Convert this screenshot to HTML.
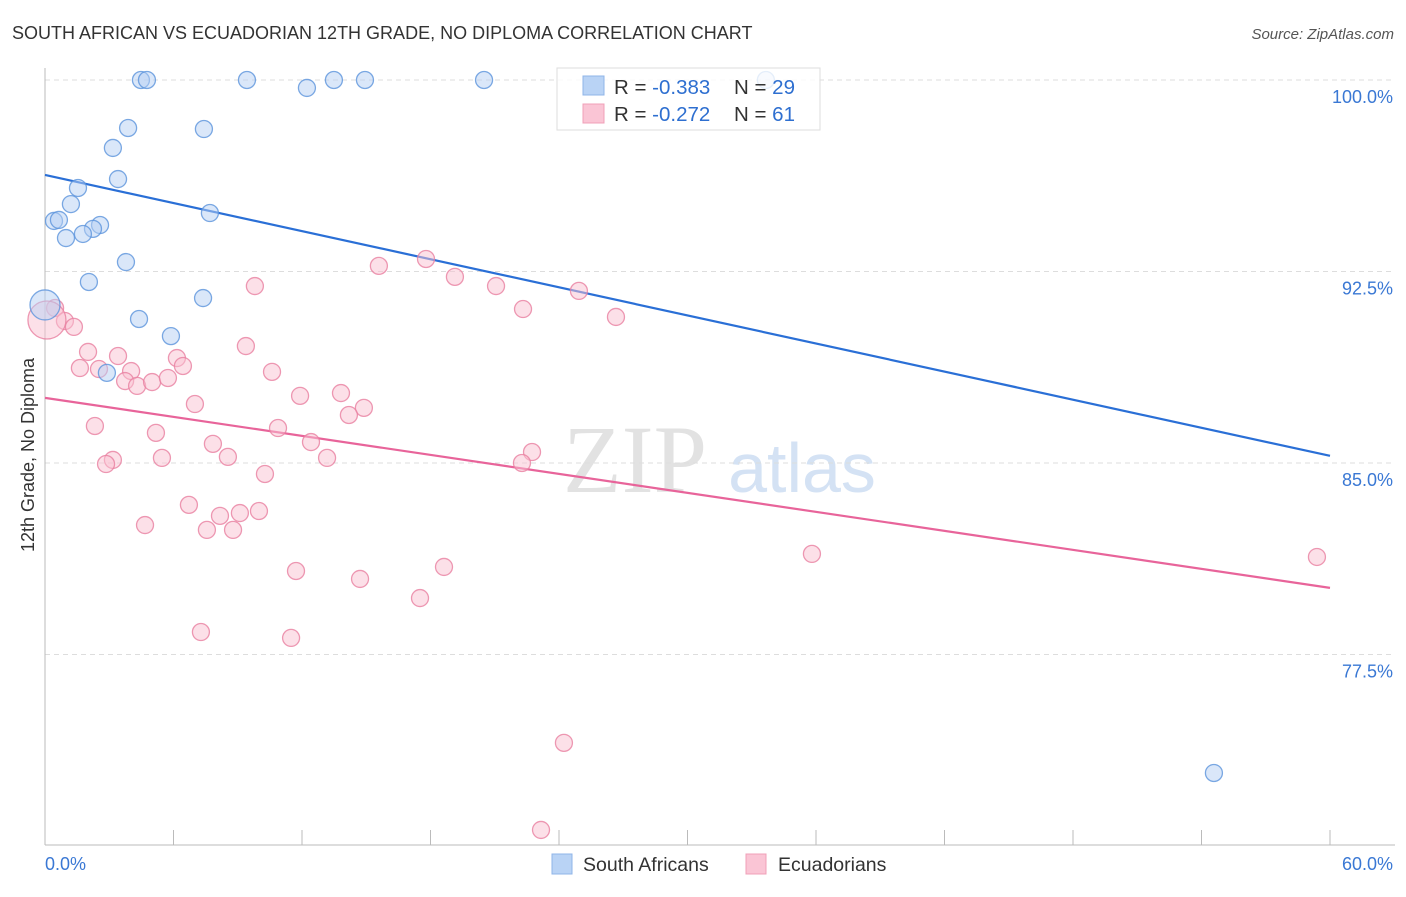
<!DOCTYPE html>
<html><head><meta charset="utf-8"><style>
body{margin:0;background:#fff;font-family:"Liberation Sans",sans-serif;}
</style></head><body>
<svg id="chart" width="1406" height="892" viewBox="0 0 1406 892" font-family="Liberation Sans, sans-serif">
<text x="12" y="39" font-size="18" fill="#333">SOUTH AFRICAN VS ECUADORIAN 12TH GRADE, NO DIPLOMA CORRELATION CHART</text>
<text x="1394" y="39" font-size="15" fill="#555" font-style="italic" text-anchor="end">Source: ZipAtlas.com</text>
<text x="0" y="0" transform="translate(34,455) rotate(-90)" font-size="18" fill="#333" text-anchor="middle">12th Grade, No Diploma</text>
<text x="635" y="492" font-size="96" fill="#e2e2e2" style="font-family:'Liberation Serif',serif" text-anchor="middle">ZIP</text>
<text x="802" y="492" font-size="70" fill="#d4e2f4" text-anchor="middle">atlas</text>
<g id="grid"></g><g id="axes"></g><g id="trend"></g><g id="pts"></g>
<g>
<rect x="557" y="68" width="263" height="62" fill="#fff" fill-opacity="0.8" stroke="#ddd"/>
<rect x="583" y="76" width="21" height="19" fill="#b9d3f5" stroke="#8fb5e8"/>
<rect x="583" y="104" width="21" height="19" fill="#fac5d5" stroke="#f0a0b8"/>
<text x="614" y="94" font-size="20.5" fill="#333">R = <tspan fill="#2e6fd0">-0.383</tspan></text>
<text x="734" y="94" font-size="20.5" fill="#333">N = <tspan fill="#2e6fd0">29</tspan></text>
<text x="614" y="121" font-size="20.5" fill="#333">R = <tspan fill="#2e6fd0">-0.272</tspan></text>
<text x="734" y="121" font-size="20.5" fill="#333">N = <tspan fill="#2e6fd0"> 61</tspan></text>
</g>
<g>
<rect x="552" y="854" width="20" height="20" fill="#b9d3f5" stroke="#8fb5e8"/>
<text x="583" y="871" font-size="19.5" fill="#333">South Africans</text>
<rect x="746" y="854" width="20" height="20" fill="#fac5d5" stroke="#f0a0b8"/>
<text x="778" y="871" font-size="19.5" fill="#333">Ecuadorians</text>
</g>
</svg>
<script>
const yTicks=[100,92.5,85,77.5];
const yTickLabels=["100.0%","92.5%","85.0%","77.5%"];
const xTickLabels=["0.0%","60.0%"];
const blueX=[4.48,4.76,9.43,12.23,13.49,14.94,20.5,33.66,3.88,7.42,3.17,3.41,1.54,1.21,7.7,0.42,0.65,2.57,2.24,1.77,0.98,3.78,2.05,7.38,4.39,5.88,2.89,0,54.58];
const blueY=[100,100,100,99.69,100,100,100,100,98.12,98.08,97.34,96.12,95.77,95.14,94.79,94.48,94.52,94.32,94.17,93.97,93.81,92.87,92.09,91.46,90.64,89.97,88.53,91.19,72.86];
const pinkX=[0.47,0.93,1.35,0.09,2.01,1.63,2.52,3.41,4.02,3.74,4.3,5,5.74,6.16,6.44,9.8,9.38,10.6,7,11.91,13.82,14.89,14.19,15.59,17.79,19.14,21.06,22.32,24.93,26.66,2.33,5.18,7.84,8.54,5.46,10.88,12.42,13.17,10.27,3.17,2.85,4.67,6.72,8.17,9.1,9.99,7.56,8.78,11.72,14.71,18.63,17.51,7.28,11.49,22.74,22.27,24.23,23.16,35.81,59.39];
const pinkY=[91.07,90.56,90.33,90.6,89.35,88.72,88.68,89.19,88.6,88.21,88.02,88.17,88.33,89.11,88.8,91.93,89.58,88.57,87.31,87.63,87.74,87.16,86.88,92.72,92.99,92.29,91.93,91.03,91.74,90.72,86.45,86.18,85.75,85.24,85.2,86.37,85.82,85.2,84.57,85.12,84.96,82.57,83.36,82.93,83.04,83.12,82.38,82.38,80.77,80.46,80.93,79.71,78.38,78.15,85.43,85,74.04,70.63,81.44,81.32];
const blueTrend=[96.28,85.28];
const pinkTrend=[87.55,80.11];
const NS="http://www.w3.org/2000/svg";
const X=v=>45+v/60*1285;
const Y=v=>80+(100-v)/7.5*191.5;
function mk(t,a,p){const e=document.createElementNS(NS,t);for(const k in a)e.setAttribute(k,a[k]);document.getElementById(p).appendChild(e);return e;}
yTicks.forEach((t,i)=>{
 const l=mk('line',{x1:45,x2:1395,y1:Y(t),y2:Y(t),stroke:'#ddd','stroke-dasharray':'5,4'},'grid');
 
 
 const tx=mk('text',{x:1393,y:Y(t)+23,'font-size':18,fill:'#3a78d4','text-anchor':'end'},'grid');
 tx.textContent=yTickLabels[i];
 
 
});
const ya=mk('line',{x1:45,x2:45,y1:68,y2:845,stroke:'#bbb'},'axes');


const xa=mk('line',{x1:45,x2:1395,y1:845,y2:845,stroke:'#bbb'},'axes');


for(let i=0;i<=10;i++){const tk=mk('line',{x1:X(i*6),x2:X(i*6),y1:830,y2:845,stroke:'#bbb'},'axes');
 
 }
[[0,'start',45],[60,'end',1393]].forEach((d,i)=>{const t=mk('text',{x:d[2],y:870,'font-size':18,fill:'#3a78d4','text-anchor':d[1]},'axes');t.textContent=xTickLabels[i];
 
 });
function pts(xs,ys,fill,stroke,name){xs.forEach((x,i)=>{const big=(x<0.2);const c=mk('circle',{cx:X(x),cy:Y(ys[i]),r:big?(name==='pink-point'?19:15):8.5,fill:fill,'fill-opacity':0.5,stroke:stroke,'stroke-width':1.3,'stroke-opacity':0.8},'pts');
 
 });}
pts(pinkX,pinkY,'#f9c1d2','#e87fa0','pink-point');
pts(blueX,blueY,'#b5cff3','#5b93dc','blue-point');
const bt=mk('line',{x1:X(0),y1:Y(blueTrend[0]),x2:X(60),y2:Y(blueTrend[1]),stroke:'#2a6fd6','stroke-width':2.2},'trend');


const pt=mk('line',{x1:X(0),y1:Y(pinkTrend[0]),x2:X(60),y2:Y(pinkTrend[1]),stroke:'#e8649a','stroke-width':2.2},'trend');


</script>
</body></html>
